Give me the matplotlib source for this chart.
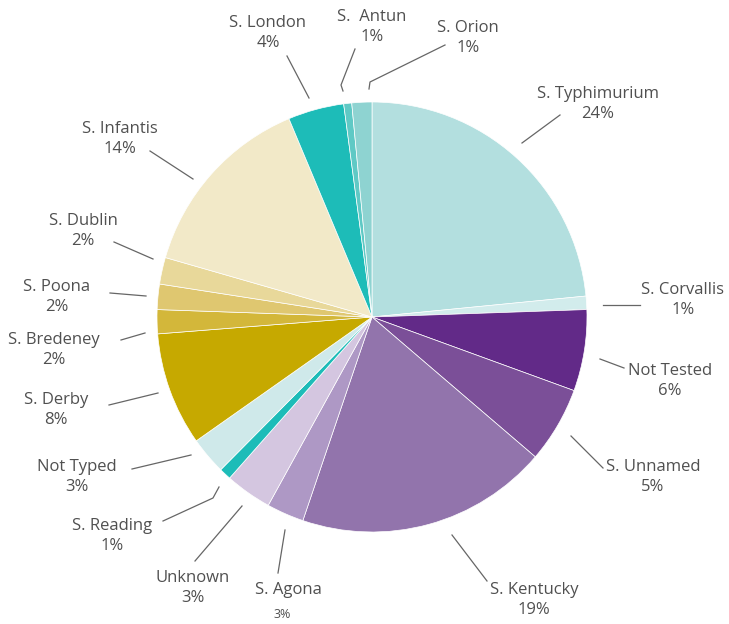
import matplotlib.pyplot as plt
import numpy as np

# data (clockwise from 12 o'clock)
names = ['S. Typhimurium', 'S. Corvallis', 'Not Tested', 'S. Unnamed', 'S. Kentucky',
         'S. Agona', 'Unknown', 'S. Reading', 'Not Typed', 'S. Derby', 'S. Bredeney',
         'S. Poona', 'S. Dublin', 'S. Infantis', 'S. London', 'S.  Antun', 'S. Orion']
pct_labels = ['24%', '1%', '6%', '5%', '19%', '3%', '3%', '1%', '3%', '8%', '2%',
              '2%', '2%', '14%', '4%', '1%', '1%']
values = [23.4, 1.0, 6.1, 5.7, 18.9, 2.8, 3.5, 0.9, 2.8, 8.5, 1.8, 1.9, 2.0, 14.2, 4.2, 0.6, 1.5]
colors = ['#b3dfdf', '#d2ecec', '#622a88', '#7b4f98', '#9274ac', '#ae98c5', '#d4c6e0',
          '#1dbcb8', '#cfe9ea', '#c6a900', '#d3b73a', '#dfc770', '#e8d89a', '#f2e9c8',
          '#1dbcb8', '#5fc9c5', '#8ed3d1']

# label block centres and leader line points (pixels)
label_xy = [(598, 104), (683, 300), (670, 381), (653, 477), (534, 600), (288, 590),
            (193, 588), (112, 536), (77, 477), (56, 410), (54, 350), (57, 297),
            (83, 231), (120, 139), (268, 33), (372, 27), (468, 38)]
line_pts = [[(522, 143), (560, 115)], [(603, 305), (640, 305)], [(600, 359), (624, 368)],
            [(571, 436), (603, 468)], [(452, 535), (487, 581)], [(285, 530), (278, 573)],
            [(242, 506), (195, 561)], [(219, 487), (213, 498), (163, 521)],
            [(191, 455), (132, 469)], [(158, 393), (109, 405)], [(145, 333), (121, 340)],
            [(146, 296), (110, 293)], [(153, 259), (114, 242)], [(193, 179), (150, 151)],
            [(309, 98), (287, 56)], [(343, 91), (341, 85), (355, 49)],
            [(369, 89), (370, 82), (445, 45)]]

W, H = 729, 624
cx, cy, R = 372, 317, 215

fig = plt.figure(figsize=(W / 100, H / 100), dpi=100)
ax = fig.add_axes([0, 0, 1, 1])


def px(x, y):
    return (x - cx) / R, (cy - y) / R


wedges, _ = ax.pie(values, colors=colors, startangle=90, counterclock=False,
                   radius=1, center=(0, 0), frame=True,
                   wedgeprops=dict(edgecolor='white', linewidth=0.5))
ax.set_xlim(-cx / R, (W - cx) / R)
ax.set_ylim(-(H - cy) / R, cy / R)
ax.set_aspect('auto')
ax.axis('off')

font = 'Open Sans'
tc = '#505050'
for i, w in enumerate(wedges):
    xs = [px(*p)[0] for p in line_pts[i]]
    ys = [px(*p)[1] for p in line_pts[i]]
    ax.plot(xs, ys, color='#666666', lw=0.9)
    lx, ly = px(*label_xy[i])
    if names[i] == 'S. Agona':
        ax.text(lx, ly, names[i], ha='center', va='center', fontsize=12,
                color=tc, family=font)
        ax.text(*px(282, 614), pct_labels[i], ha='center', va='center',
                fontsize=9, color=tc, family=font)
    else:
        ax.text(lx, ly, names[i] + '\n' + pct_labels[i], ha='center', va='center',
                fontsize=12, color=tc, family=font, linespacing=1.4)

fig.savefig('out.png', dpi=100)
